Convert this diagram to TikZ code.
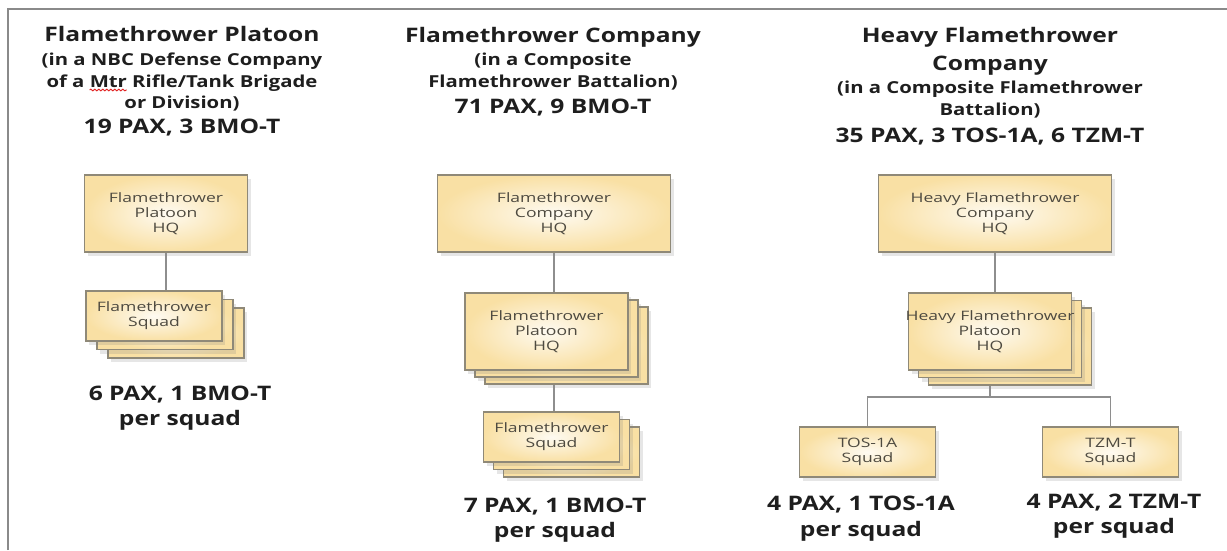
\documentclass[tikz,border=0pt]{standalone}
\usepackage{fontspec}
\setmainfont{Open Sans}[FakeStretch=1.23]
\newfontfamily\boxfont{Open Sans}[FakeStretch=1.35]
\usetikzlibrary{positioning, shadows, decorations.pathmorphing}

\definecolor{boxfill}{HTML}{F9E0A4}
\definecolor{boxedge}{HTML}{8F8978}
\definecolor{boxtext}{HTML}{4E4A40}
\definecolor{linkgray}{HTML}{8E8E8E}
\definecolor{framegray}{HTML}{8A8A8A}
\definecolor{headtext}{HTML}{1E1E1E}
\definecolor{spellred}{HTML}{E02020}

\newlength\wavestart
\newlength\waveend
\newcommand\subfont{\bfseries\fontsize{16.5}{20}\selectfont}

\begin{document}
\settowidth{\wavestart}{\subfont of a }
\settowidth{\waveend}{\subfont of a Mtr}
\begin{tikzpicture}[
    x=1pt, y=-1pt,
    head/.style={anchor=base, font=\bfseries\fontsize{20}{24}\selectfont, text=headtext, inner sep=0pt},
    sub/.style={anchor=base, font=\subfont, text=headtext, inner sep=0pt},
    unit/.style={draw=boxedge, line width=1.1pt, shading=radial, inner color=white!85!boxfill, outer color=boxfill,
        drop shadow={opacity=0.2, shadow xshift=3pt, shadow yshift=-4pt},
        font=\boxfont\fontsize{13}{15}\selectfont, text=boxtext, align=center, inner sep=1pt},
    plt/.style={unit, minimum width=163pt, minimum height=77pt},
    hqwide/.style={unit, minimum width=233pt, minimum height=77pt},
    sqd/.style={unit, minimum width=136pt, minimum height=50pt},
    conn/.style={draw=linkgray, line width=1.2pt},
    spell/.style={draw=spellred, line width=0.9pt, decorate, decoration={snake, amplitude=0.9pt, segment length=4pt}}
]
    \useasboundingbox (0,0) rectangle (1227,550);
    \draw[framegray, line width=2pt] (8,550) -- (8,9) -- (1227,9);

    % headings
    \node[head] (h1a) at (182,41)  {Flamethrower Platoon};
    \node[sub]  (h1b) at (182,65)  {(in a NBC Defense Company};
    \node[sub]  (h1c) at (182,87)  {of a Mtr Rifle/Tank Brigade};
    \node[sub]  (h1d) at (182,108) {or Division)};
    \node[head] (h1e) at (182,133) {19 PAX, 3 BMO-T};
    \coordinate (wave0) at ([xshift=\wavestart, yshift=-3pt]h1c.base west);
    \coordinate (wave1) at ([xshift=\waveend, yshift=-3pt]h1c.base west);
    \draw[spell] (wave0) -- (wave1);

    \node[head] (h2a) at (553,42)  {Flamethrower Company};
    \node[sub]  (h2b) at (553,65)  {(in a Composite};
    \node[sub]  (h2c) at (553,87)  {Flamethrower Battalion)};
    \node[head] (h2d) at (553,113) {71 PAX, 9 BMO-T};

    \node[head] (h3a) at (990,42)  {Heavy Flamethrower};
    \node[head] (h3b) at (990,70)  {Company};
    \node[sub]  (h3c) at (990,93)  {(in a Composite Flamethrower};
    \node[sub]  (h3d) at (990,115) {Battalion)};
    \node[head] (h3e) at (990,142) {35 PAX, 3 TOS-1A, 6 TZM-T};

    % platoon column
    \node[plt] (hq1) at (166,213.5) {Flamethrower\\Platoon\\HQ};
    \node[sqd] (sq1c) at (176,333) {};
    \node[sqd] (sq1b) at (165,324.5) {};
    \node[sqd] (sq1) at (154,316) {Flamethrower\\Squad};
    \draw[conn] (hq1.south) -- (hq1.south |- sq1.north);
    \node[head] (n1a) at (180,400) {6 PAX, 1 BMO-T};
    \node[head] (n1b) at (180,425) {per squad};

    % company column
    \node[hqwide] (hq2) at (554,213.5) {Flamethrower\\Company\\HQ};
    \node[plt] (pl2c) at (566.5,345.5) {};
    \node[plt] (pl2b) at (556.5,338.5) {};
    \node[plt] (pl2) at (546.5,331.5) {Flamethrower\\Platoon\\HQ};
    \node[sqd] (sq2c) at (571.5,452) {};
    \node[sqd] (sq2b) at (561.5,444.5) {};
    \node[sqd] (sq2) at (551.5,437) {Flamethrower\\Squad};
    \draw[conn] (hq2.south) -- (hq2.south |- pl2.north);
    \draw[conn] (hq2.south |- pl2c.south) -- (hq2.south |- sq2.north);
    \node[head] (n2a) at (555,512) {7 PAX, 1 BMO-T};
    \node[head] (n2b) at (555,537) {per squad};

    % heavy company column
    \node[hqwide] (hq3) at (995,213.5) {Heavy Flamethrower\\Company\\HQ};
    \node[plt] (pl3c) at (1010,346.5) {};
    \node[plt] (pl3b) at (1000,339) {};
    \node[plt] (pl3) at (990,331.5) {\makebox[0pt]{Heavy Flamethrower}\\Platoon\\HQ};
    \node[sqd] (tos) at (867.5,452) {TOS-1A\\Squad};
    \node[sqd] (tzm) at (1110.5,452) {TZM-T\\Squad};
    \coordinate (bus3) at (990,397);
    \draw[conn] (hq3.south) -- (hq3.south |- pl3.north);
    \draw[conn] (pl3.south |- pl3c.south) -- (bus3);
    \draw[conn] (tos.north) |- (bus3) -| (tzm.north);
    \node[head] (n3a) at (861,510) {4 PAX, 1 TOS-1A};
    \node[head] (n3b) at (861,536) {per squad};
    \node[head] (n4a) at (1114,508) {4 PAX, 2 TZM-T};
    \node[head] (n4b) at (1114,533) {per squad};
\end{tikzpicture}
\end{document}
